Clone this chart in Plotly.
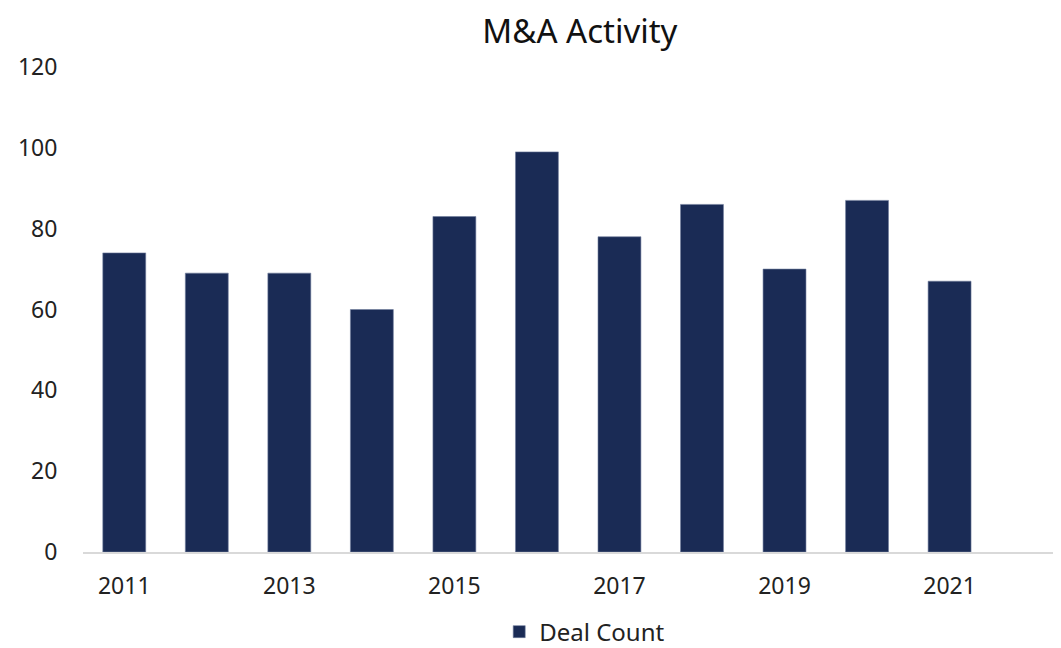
import plotly.graph_objects as go

# ── Data ──────────────────────────────────────────
years = [2011, 2012, 2013, 2014, 2015, 2016, 2017, 2018, 2019, 2020, 2021]
deal_count = [74, 69, 69, 60, 83, 99, 78, 86, 70, 87, 67]
y_ticks = [0, 20, 40, 60, 80, 100, 120]
x_ticks = [2011, 2013, 2015, 2017, 2019, 2021]

NAVY = "#1a2b55"
FONT = "'Noto Sans', 'Open Sans', sans-serif"

fig = go.Figure()

fig.add_trace(go.Bar(
    x=years, y=deal_count,
    name="Deal Count",
    marker=dict(color=NAVY, line=dict(color="#6f7c9c", width=0.6)),
    width=0.52,
))

# page body adds an 8px offset, so margins are shifted by 8
fig.update_layout(
    width=1061, height=648,
    paper_bgcolor="white",
    plot_bgcolor="white",
    font=dict(family=FONT, size=23, color="#222222"),
    title=dict(text="M&A Activity", x=0.539, xanchor="center", y=0.9645, yanchor="middle",
               font=dict(size=33, color="#111111")),
    margin=dict(l=75, r=8, t=59, b=104, autoexpand=False),
    showlegend=True,
    legend=dict(orientation="h", x=0.513, xanchor="center", y=-0.165, yanchor="middle",
                font=dict(size=24), itemwidth=30),
    bargap=0.45,
)

fig.update_xaxes(
    range=[2010.5, 2022.35],
    tickvals=x_ticks,
    ticks="outside", ticklen=12, tickcolor="rgba(0,0,0,0)",
    showline=True, linecolor="#d9d9d9", linewidth=2,
    showgrid=False, zeroline=False, automargin=False,
)
fig.update_yaxes(
    range=[0, 120],
    tickvals=y_ticks,
    ticks="outside", ticklen=20, tickcolor="rgba(0,0,0,0)",
    showgrid=False, zeroline=False, showline=False, automargin=False,
)

fig.write_html("out.html")
